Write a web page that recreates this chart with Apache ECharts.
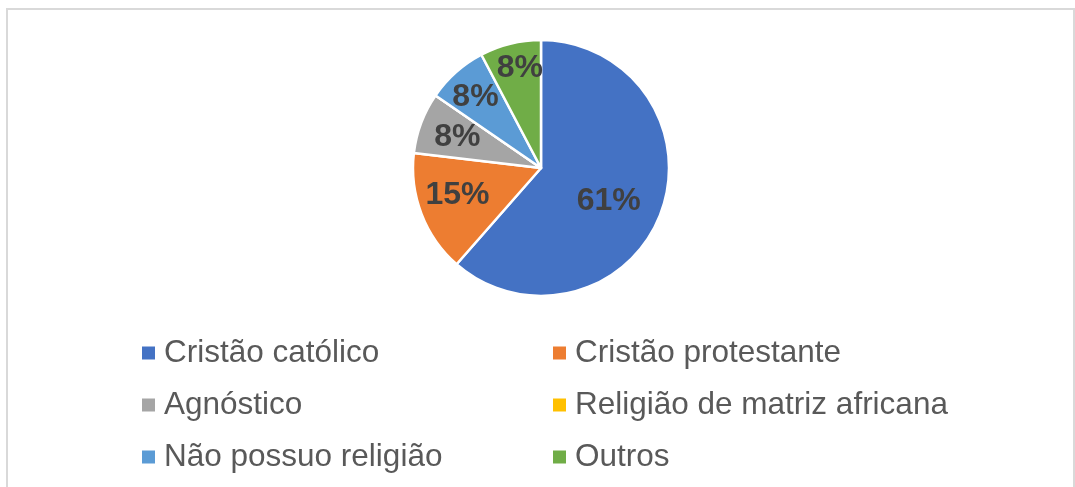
<!DOCTYPE html>
<html>
<head>
<meta charset="utf-8">
<script src="https://cdn.jsdelivr.net/npm/echarts@6/dist/echarts.min.js"></script>
<style>
  html, body { margin: 0; padding: 0; background: #fff; }
  #chart { width: 1075px; height: 487px; }
</style>
</head>
<body>
<div id="chart"></div>
<script>
// religiões (% das respostas)
let categorias = [
  "Cristão católico",
  "Cristão protestante",
  "Agnóstico",
  "Religião de matriz africana",
  "Não possuo religião",
  "Outros",
];
let valores = [61.4, 15.4, 7.7, 0, 7.7, 7.7];
let cores = ["#4472C4", "#ED7D31", "#A5A5A5", "#FFC000", "#5B9BD5", "#70AD47"];

// ajuste dos rótulos (estilo "best fit" do Excel)
let deslocRotulo = [[5, 10], [-21, 3], [-21, -7], [0, 0], [-21, -21], [-5, -35]];

let total = valores.reduce((a, b) => a + b, 0);

let dados = [];
for (let i = 0; i < categorias.length; i++) {
  dados.push({
    name: categorias[i],
    value: valores[i],
    itemStyle: { color: cores[i] },
    label: { show: valores[i] > 0 },
  });
}

var myChart = echarts.init(document.getElementById("chart"));

var legendaTexto = {
  color: "#595959",
  fontSize: 31.5,
  lineHeight: 32,
  padding: [0, 0, 0, 3],
  fontFamily: "Liberation Sans, Arial, sans-serif",
};

var option = {
  animation: false,
  graphic: [
    {
      type: "rect",
      shape: { x: 7, y: 9, width: 1067, height: 520 },
      style: { fill: "none", stroke: "#d9d9d9", lineWidth: 2 },
      silent: true,
    },
  ],
  legend: [
    {
      orient: "vertical",
      left: 135,
      top: 332,
      itemWidth: 15,
      itemHeight: 15,
      itemGap: 20,
      icon: "rect",
      textStyle: legendaTexto,
      data: [categorias[0], categorias[2], categorias[4]],
      selectedMode: false,
    },
    {
      orient: "vertical",
      left: 546,
      top: 332,
      itemWidth: 15,
      itemHeight: 15,
      itemGap: 20,
      icon: "rect",
      textStyle: legendaTexto,
      data: [categorias[1], categorias[3], categorias[5]],
      selectedMode: false,
    },
  ],
  series: [
    {
      type: "pie",
      center: [541, 168],
      radius: 128,
      startAngle: 90,
      clockwise: true,
      itemStyle: { borderColor: "#ffffff", borderWidth: 2.5 },
      label: {
        position: "inside",
        color: "#404040",
        fontSize: 32,
        fontWeight: "bold",
        fontFamily: "Liberation Sans, Arial, sans-serif",
        formatter: function (p) {
          return Math.round((p.value / total) * 100) + "%";
        },
      },
      labelLine: { show: false },
      labelLayout: function (params) {
        let d = deslocRotulo[params.dataIndex];
        return { dx: d[0], dy: d[1] };
      },
      emphasis: { disabled: true },
      data: dados,
    },
  ],
};

option && myChart.setOption(option);
</script>
</body>
</html>
